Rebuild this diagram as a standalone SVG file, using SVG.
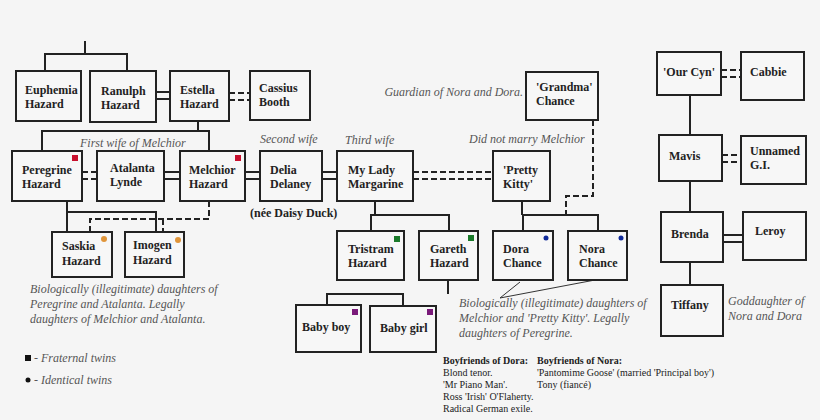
<svg xmlns="http://www.w3.org/2000/svg" width="820" height="420" viewBox="0 0 820 420">
<style>
.b{fill:#f7f7f7;stroke:#222;stroke-width:2}
.n{font-family:"Liberation Serif",serif;font-weight:bold;font-size:12px;fill:#222}
.i{font-family:"Liberation Serif",serif;font-style:italic;font-size:12px;fill:#555}
.s{font-family:"Liberation Serif",serif;font-size:10px;fill:#222}
.l{fill:none;stroke:#222;stroke-width:2}
.d{fill:none;stroke:#222;stroke-width:2;stroke-dasharray:6,3}
.t{fill:none;stroke:#333;stroke-width:1}
</style>
<rect width="820" height="420" fill="#f5f5f5"/>
<g id="connectors">
<path class="l" d="M85 41V54M45 71V54H127V71"/>
<path class="l" d="M156 92H170M156 99H170"/>
<path class="d" d="M229 93H250M229 100H250"/>
<path class="l" d="M198 121V131M42 151V131H209V151"/>
<path class="d" d="M82 172H97M82 179H97"/>
<path class="l" d="M164 172H180M164 179H180M245 172H260M245 179H260M322 172H337M322 179H337"/>
<path class="d" d="M413 172H493M413 179H493"/>
<path class="l" d="M67 201V232M67 212H156V232"/>
<path class="d" d="M209 201V219H90V232M163 219V232"/>
<path class="l" d="M375 201V215M371 231V215H449V231"/>
<path class="l" d="M448 280V294M327 305V294H403V306"/>
<path class="l" d="M522 201V215M523 231V215H598V231"/>
<path class="d" d="M593 120V196H566V215"/>
<path class="t" d="M500 298L520 282M500 298L595 280"/>
<path class="l" d="M690 95V135M690 181V212M690 262V285"/>
<path class="d" d="M721 70H741M721 77H741M722 155H741M722 162H741"/>
<path class="l" d="M723 235H743M723 242H743"/>
</g>
<g id="euphemia"><rect class="b" x="16" y="71" width="65" height="50"/><text class="n" x="25" y="94">Euphemia</text><text class="n" x="25" y="108">Hazard</text></g>
<g id="ranulph"><rect class="b" x="90" y="71" width="66" height="51"/><text class="n" x="101" y="95">Ranulph</text><text class="n" x="101" y="109">Hazard</text></g>
<g id="estella"><rect class="b" x="170" y="71" width="59" height="50"/><text class="n" x="180" y="94">Estella</text><text class="n" x="180" y="108">Hazard</text></g>
<g id="cassius"><rect class="b" x="250" y="71" width="60" height="49"/><text class="n" x="259" y="92">Cassius</text><text class="n" x="259" y="106">Booth</text></g>
<g id="peregrine"><rect class="b" x="12" y="151" width="70" height="50"/><rect x="72" y="155" width="6" height="6" fill="#c8102e"/><text class="n" x="22" y="174">Peregrine</text><text class="n" x="22" y="188">Hazard</text></g>
<g id="atalanta"><rect class="b" x="97" y="151" width="67" height="50"/><text class="n" x="110" y="172">Atalanta</text><text class="n" x="110" y="186">Lynde</text></g>
<g id="melchior"><rect class="b" x="180" y="151" width="65" height="50"/><rect x="235" y="155" width="6" height="6" fill="#c8102e"/><text class="n" x="189" y="174">Melchior</text><text class="n" x="189" y="188">Hazard</text></g>
<g id="delia"><rect class="b" x="260" y="151" width="62" height="50"/><text class="n" x="270" y="174">Delia</text><text class="n" x="270" y="188">Delaney</text></g>
<g id="margarine"><rect class="b" x="337" y="151" width="76" height="50"/><text class="n" x="348" y="174">My Lady</text><text class="n" x="348" y="188">Margarine</text></g>
<g id="kitty"><rect class="b" x="493" y="151" width="57" height="50"/><text class="n" x="503" y="174">'Pretty</text><text class="n" x="503" y="188">Kitty'</text></g>
<g id="grandma"><rect class="b" x="526" y="72" width="72" height="48"/><text class="n" x="536" y="91">'Grandma'</text><text class="n" x="536" y="105">Chance</text></g>
<g id="saskia"><rect class="b" x="52" y="232" width="60" height="45"/><circle cx="104" cy="239" r="3" fill="#e0953a"/><text class="n" x="62" y="250">Saskia</text><text class="n" x="62" y="265">Hazard</text></g>
<g id="imogen"><rect class="b" x="125" y="232" width="59" height="45"/><circle cx="178" cy="240" r="3" fill="#e0953a"/><text class="n" x="133" y="249">Imogen</text><text class="n" x="133" y="264">Hazard</text></g>
<g id="tristram"><rect class="b" x="337" y="231" width="67" height="49"/><rect x="394" y="236" width="6" height="6" fill="#1a7a2a"/><text class="n" x="348" y="253">Tristram</text><text class="n" x="348" y="267">Hazard</text></g>
<g id="gareth"><rect class="b" x="419" y="231" width="59" height="49"/><rect x="468" y="235" width="6" height="6" fill="#1a7a2a"/><text class="n" x="430" y="253">Gareth</text><text class="n" x="430" y="267">Hazard</text></g>
<g id="babyboy"><rect class="b" x="296" y="305" width="65" height="47"/><rect x="352" y="309" width="6" height="6" fill="#7a1a7a"/><text class="n" x="302" y="331">Baby boy</text></g>
<g id="babygirl"><rect class="b" x="370" y="306" width="66" height="46"/><rect x="427" y="309" width="6" height="6" fill="#7a1a7a"/><text class="n" x="380" y="332">Baby girl</text></g>
<g id="dora"><rect class="b" x="493" y="231" width="60" height="49"/><circle cx="546" cy="238" r="2.5" fill="#102a9a"/><text class="n" x="503" y="253">Dora</text><text class="n" x="503" y="267">Chance</text></g>
<g id="nora"><rect class="b" x="568" y="231" width="59" height="49"/><circle cx="621" cy="238" r="2.5" fill="#102a9a"/><text class="n" x="579" y="253">Nora</text><text class="n" x="579" y="267">Chance</text></g>
<g id="cyn"><rect class="b" x="657" y="52" width="64" height="43"/><text class="n" x="663" y="76">'Our Cyn'</text></g>
<g id="cabbie"><rect class="b" x="741" y="52" width="63" height="48"/><text class="n" x="750" y="76">Cabbie</text></g>
<g id="mavis"><rect class="b" x="659" y="135" width="63" height="46"/><text class="n" x="669" y="160">Mavis</text></g>
<g id="gi"><rect class="b" x="741" y="136" width="65" height="48"/><text class="n" x="750" y="155">Unnamed</text><text class="n" x="750" y="169">G.I.</text></g>
<g id="brenda"><rect class="b" x="661" y="212" width="62" height="50"/><text class="n" x="671" y="238">Brenda</text></g>
<g id="leroy"><rect class="b" x="743" y="212" width="63" height="48"/><text class="n" x="755" y="235">Leroy</text></g>
<g id="tiffany"><rect class="b" x="661" y="285" width="62" height="51"/><text class="n" x="671" y="309">Tiffany</text></g>
<g id="notes">
<text class="i" x="80" y="147">First wife of Melchior</text>
<text class="i" x="260" y="143">Second wife</text>
<text class="i" x="345" y="144">Third wife</text>
<text class="i" x="469" y="143">Did not marry Melchior</text>
<text class="i" x="523" y="96" text-anchor="end">Guardian of Nora and Dora.</text>
<text class="n" x="250" y="217">(née Daisy Duck)</text>
<text class="i" x="30" y="293">Biologically (illegitimate) daughters of</text>
<text class="i" x="30" y="308">Peregrine and Atalanta. Legally</text>
<text class="i" x="30" y="323">daughters of Melchior and Atalanta.</text>
<text class="i" x="459" y="307">Biologically (illegitimate) daughters of</text>
<text class="i" x="459" y="322">Melchior and 'Pretty Kitty'. Legally</text>
<text class="i" x="459" y="337">daughters of Peregrine.</text>
<text class="i" x="728" y="305">Goddaughter of</text>
<text class="i" x="728" y="320">Nora and Dora</text>
<rect x="25" y="355" width="6" height="6" fill="#111"/>
<text class="i" x="34" y="362">- Fraternal twins</text>
<circle cx="28" cy="380" r="2.5" fill="#111"/>
<text class="i" x="34" y="384">- Identical twins</text>
<text class="s" x="443" y="364" font-weight="bold">Boyfriends of Dora:</text>
<text class="s" x="443" y="376">Blond tenor.</text>
<text class="s" x="443" y="388">'Mr Piano Man'.</text>
<text class="s" x="443" y="400">Ross 'Irish' O'Flaherty.</text>
<text class="s" x="443" y="412">Radical German exile.</text>
<text class="s" x="537" y="364" font-weight="bold">Boyfriends of Nora:</text>
<text class="s" x="537" y="376">'Pantomime Goose'  (married 'Principal boy')</text>
<text class="s" x="537" y="388">Tony (fiancé)</text>
</g>
</svg>
